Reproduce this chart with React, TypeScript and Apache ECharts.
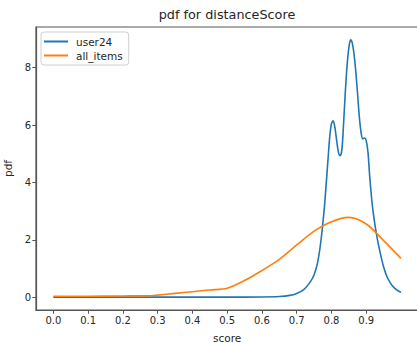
import React, { useEffect, useRef } from "react";
import * as echarts from "echarts";

const titleText = "pdf for distanceScore";
const xTicks = [0, 0.1, 0.2, 0.3, 0.4, 0.5, 0.6, 0.7, 0.8, 0.9];
const yTicks = [0, 2, 4, 6, 8];

const userX = [0, 0.1, 0.2, 0.3, 0.4, 0.5, 0.6, 0.65, 0.68, 0.7, 0.72, 0.74, 0.75, 0.76, 0.77, 0.78, 0.79, 0.795, 0.8, 0.805, 0.81, 0.815, 0.82, 0.825, 0.83, 0.835, 0.84, 0.845, 0.85, 0.855, 0.86, 0.865, 0.87, 0.875, 0.88, 0.885, 0.89, 0.895, 0.9, 0.905, 0.91, 0.915, 0.92, 0.93, 0.94, 0.95, 0.96, 0.97, 0.98, 0.99, 1.0];
const userY = [0, 0, 0, 0, 0, 0, 0.005, 0.02, 0.06, 0.13, 0.26, 0.55, 0.78, 1.2, 2.0, 3.2, 4.8, 5.6, 6.05, 6.15, 5.9, 5.45, 5.05, 4.93, 5.15, 6.1, 7.2, 8.1, 8.7, 8.97, 8.85, 8.45, 7.85, 7.1, 6.3, 5.75, 5.52, 5.55, 5.45, 5.05, 4.2, 3.5, 2.95, 2.15, 1.55, 1.05, 0.7, 0.48, 0.33, 0.23, 0.17];

const allX = [0, 0.1, 0.2, 0.28, 0.3, 0.35, 0.4, 0.45, 0.5, 0.55, 0.6, 0.65, 0.7, 0.75, 0.8, 0.85, 0.9, 0.95, 1.0];
const allY = [0.03, 0.03, 0.04, 0.05, 0.07, 0.13, 0.19, 0.25, 0.31, 0.58, 0.93, 1.32, 1.82, 2.3, 2.63, 2.78, 2.55, 1.97, 1.35];

const FONT = "DejaVu Sans";
const AXIS_COLOR = "#555";
const TEXT_COLOR = "#262626";

export default function App() {
  const ref = useRef<HTMLDivElement>(null);
  useEffect(() => {
    if (!ref.current) return;
    const chart = echarts.init(ref.current, null, { renderer: "svg" });
    const userData = userX.map((x, i) => [x, userY[i]]);
    const allData = allX.map((x, i) => [x, allY[i]]);
    chart.setOption({
      animation: false,
      backgroundColor: "#fff",
      textStyle: { fontFamily: FONT },
      grid: {
        left: 36,
        top: 27,
        width: 382.4,
        height: 283,
        containLabel: false,
        outerBoundsMode: "none",
        show: true,
        borderColor: AXIS_COLOR,
        borderWidth: 1.2,
        backgroundColor: "transparent",
      },
      graphic: [
        {
          type: "text",
          x: 227,
          y: 14,
          style: {
            text: titleText,
            fontFamily: FONT,
            fontSize: 12.8,
            fill: TEXT_COLOR,
            textAlign: "center",
            textVerticalAlign: "middle",
          },
        },
      ],
      legend: {
        left: 41,
        top: 32,
        orient: "vertical",
        backgroundColor: "#fff",
        borderColor: "#d0d0d0",
        borderWidth: 1,
        borderRadius: 3,
        padding: [4, 6, 4, 3],
        itemGap: 3,
        itemWidth: 24,
        itemHeight: 2,
        icon: "rect",
        textStyle: { fontFamily: FONT, fontSize: 10.5, color: TEXT_COLOR, padding: [0, 0, 0, 3] },
        data: ["user24", "all_items"],
      },
      xAxis: {
        type: "value",
        min: -0.05,
        max: 1.05,
        name: "score",
        nameLocation: "middle",
        nameGap: 22,
        nameTextStyle: { fontFamily: FONT, fontSize: 10.5, color: TEXT_COLOR },
        axisLine: { show: true, onZero: false, lineStyle: { color: AXIS_COLOR, width: 1.2 } },
        axisTick: { show: true, length: 3.7, customValues: xTicks, lineStyle: { color: AXIS_COLOR, width: 1 } },
        axisLabel: {
          customValues: xTicks,
          formatter: (v: number) => v.toFixed(1),
          fontFamily: FONT,
          fontSize: 10,
          color: TEXT_COLOR,
          margin: 5,
        },
        splitLine: { show: false },
      },
      yAxis: {
        type: "value",
        min: -0.449,
        max: 9.42,
        name: "pdf",
        nameLocation: "middle",
        nameGap: 22,
        nameTextStyle: { fontFamily: FONT, fontSize: 10.5, color: TEXT_COLOR },
        axisLine: { show: true, onZero: false, lineStyle: { color: AXIS_COLOR, width: 1.2 } },
        axisTick: { show: true, length: 3.7, customValues: yTicks, lineStyle: { color: AXIS_COLOR, width: 1 } },
        axisLabel: {
          customValues: yTicks,
          formatter: (v: number) => String(v),
          fontFamily: FONT,
          fontSize: 10,
          color: TEXT_COLOR,
          margin: 5,
        },
        splitLine: { show: false },
      },
      series: [
        {
          name: "user24",
          type: "line",
          data: userData,
          showSymbol: false,
          smooth: 0.3,
          lineStyle: { color: "#1f77b4", width: 1.6 },
          itemStyle: { color: "#1f77b4" },
        },
        {
          name: "all_items",
          type: "line",
          data: allData,
          showSymbol: false,
          smooth: 0.3,
          lineStyle: { color: "#ff7f0e", width: 1.6 },
          itemStyle: { color: "#ff7f0e" },
        },
      ],
    });
    return () => chart.dispose();
  }, []);
  return (
    <div
      ref={ref}
      style={{ position: "absolute", left: 0, top: 0, width: 417, height: 343 }}
    />
  );
}
